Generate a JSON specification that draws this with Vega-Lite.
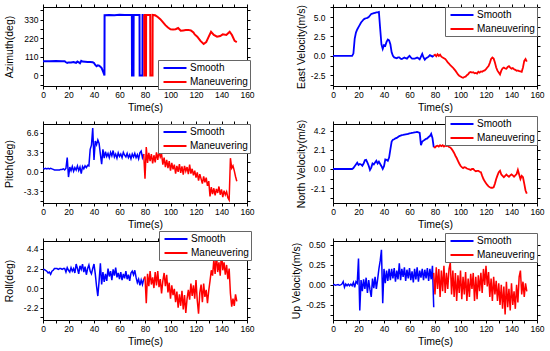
{
"$schema":"https://vega.github.io/schema/vega-lite/v6.json",
"padding":{"left":3,"top":2,"right":0,"bottom":0},
"background":"white",
"datasets":{
"az":[
{"t":0,"a":84,"s":"S"},{"t":5,"a":84,"s":"S"},{"t":10,"a":85,"s":"S"},{"t":15,"a":84,"s":"S"},{"t":17,"a":84,"s":"S"},{"t":18,"a":78,"s":"S"},{"t":19,"a":74,"s":"S"},{"t":20,"a":77,"s":"S"},{"t":22,"a":76,"s":"S"},{"t":24,"a":79,"s":"S"},{"t":25,"a":77,"s":"S"},{"t":26,"a":75,"s":"S"},{"t":27,"a":82,"s":"S"},{"t":28,"a":78,"s":"S"},{"t":29,"a":72,"s":"S"},{"t":30,"a":86,"s":"S"},{"t":31,"a":82,"s":"S"},{"t":33,"a":81,"s":"S"},{"t":35,"a":80,"s":"S"},{"t":37,"a":79,"s":"S"},{"t":39,"a":78,"s":"S"},{"t":40,"a":74,"s":"S"},{"t":41,"a":62,"s":"S"},{"t":42,"a":55,"s":"S"},{"t":43,"a":60,"s":"S"},{"t":44,"a":58,"s":"S"},{"t":45,"a":52,"s":"S"},{"t":46,"a":44,"s":"S"},{"t":47,"a":25,"s":"S"},{"t":47.8,"a":10,"s":"S"},{"t":48.2,"a":0,"s":"S"},{"t":48.3,"a":356,"s":"S"},{"t":52,"a":357,"s":"S"},{"t":56,"a":356,"s":"S"},{"t":60,"a":358,"s":"S"},{"t":64,"a":357,"s":"S"},{"t":69.7,"a":357,"s":"S"},{"t":69.8,"a":0,"s":"S"},{"t":71,"a":0,"s":"S"},{"t":71.1,"a":357,"s":"S"},{"t":75.7,"a":357,"s":"S"},{"t":75.8,"a":0,"s":"S"},{"t":78,"a":0,"s":"S"},{"t":78.1,"a":357,"s":"S"},{"t":79,"a":357,"s":"S"},
{"t":79,"a":357,"s":"M"},{"t":79.4,"a":357,"s":"M"},{"t":79.5,"a":0,"s":"M"},{"t":80.8,"a":0,"s":"M"},{"t":80.9,"a":357,"s":"M"},{"t":84.1,"a":357,"s":"M"},{"t":84.2,"a":0,"s":"M"},{"t":85.9,"a":0,"s":"M"},{"t":86,"a":357,"s":"M"},{"t":88,"a":355,"s":"M"},{"t":90,"a":345,"s":"M"},{"t":92,"a":332,"s":"M"},{"t":94,"a":315,"s":"M"},{"t":96,"a":297,"s":"M"},{"t":98,"a":283,"s":"M"},{"t":100,"a":273,"s":"M"},{"t":102,"a":271,"s":"M"},{"t":104,"a":273,"s":"M"},{"t":106,"a":280,"s":"M"},{"t":108,"a":264,"s":"M"},{"t":110,"a":266,"s":"M"},{"t":112,"a":268,"s":"M"},{"t":114,"a":269,"s":"M"},{"t":116,"a":266,"s":"M"},{"t":118,"a":254,"s":"M"},{"t":119,"a":242,"s":"M"},{"t":121,"a":229,"s":"M"},{"t":123.5,"a":204,"s":"M"},{"t":126,"a":186,"s":"M"},{"t":128,"a":197,"s":"M"},{"t":130,"a":229,"s":"M"},{"t":131.8,"a":258,"s":"M"},{"t":134,"a":239,"s":"M"},{"t":136.5,"a":229,"s":"M"},{"t":139,"a":233,"s":"M"},{"t":141,"a":243,"s":"M"},{"t":143.8,"a":239,"s":"M"},{"t":146.4,"a":258,"s":"M"},{"t":148.2,"a":239,"s":"M"},{"t":150.3,"a":204,"s":"M"},{"t":152,"a":197,"s":"M"}
],
"d":[
{"t":0,"s":"S","p":0.6,"r":2.1,"e":0,"n":0,"u":0},
{"t":1,"s":"S","p":0.5,"r":2.1,"e":0,"n":0,"u":0.005},
{"t":2,"s":"S","p":0.6,"r":2.0,"e":0,"n":0,"u":-0.005},
{"t":3,"s":"S","p":0.5,"r":1.9,"e":0,"n":0,"u":0},
{"t":4,"s":"S","p":0.6,"r":1.7,"e":0,"n":0,"u":0.005},
{"t":5,"s":"S","p":0.5,"r":1.8,"e":0,"n":0,"u":-0.005},
{"t":6,"s":"S","p":0.6,"r":1.55,"e":0,"n":0,"u":0},
{"t":7,"s":"S","p":0.5,"r":1.9,"e":0,"n":0,"u":0.01},
{"t":8,"s":"S","p":0.4,"r":2.0,"e":0,"n":0,"u":0.04},
{"t":9,"s":"S","p":0.3,"r":2.2,"e":0,"n":0,"u":-0.03},
{"t":10,"s":"S","p":0.3,"r":2.2,"e":0,"n":0,"u":0.01},
{"t":11,"s":"S","p":0.3,"r":2.2,"e":0,"n":0,"u":-0.01},
{"t":12,"s":"S","p":0.3,"r":2.1,"e":0,"n":0,"u":0.01},
{"t":13,"s":"S","p":0.3,"r":2.2,"e":0,"n":0,"u":-0.01},
{"t":14,"s":"S","p":0.4,"r":2.2,"e":0,"n":0,"u":0.01},
{"t":15,"s":"S","p":0.4,"r":2.1,"e":0,"n":0,"u":-0.01},
{"t":16,"s":"S","p":0.5,"r":2.2,"e":0.3,"n":0.1,"u":0.03},
{"t":17,"s":"S","p":0.3,"r":2.2,"e":2.2,"n":0.3,"u":-0.03},
{"t":18,"s":"S","p":0.6,"r":1.8,"e":3.0,"n":0.5,"u":0.04},
{"t":19,"s":"S","p":2.4,"r":2.3,"e":3.4,"n":0.7,"u":0.02},
{"t":20,"s":"S","p":-0.9,"r":2.0,"e":3.7,"n":0.45,"u":0.33},
{"t":21,"s":"S","p":0.8,"r":1.8,"e":4.0,"n":0.55,"u":-0.32},
{"t":22,"s":"S","p":0.2,"r":2.3,"e":4.3,"n":0.5,"u":0.06},
{"t":23,"s":"S","p":0.9,"r":1.9,"e":4.5,"n":0.35,"u":-0.08},
{"t":24,"s":"S","p":0.1,"r":2.2,"e":4.7,"n":0.6,"u":0.07},
{"t":25,"s":"S","p":0.7,"r":1.7,"e":4.8,"n":0.95,"u":-0.05},
{"t":26,"s":"S","p":0.3,"r":2.7,"e":4.85,"n":1.0,"u":0.09},
{"t":27,"s":"S","p":1.0,"r":2.2,"e":4.9,"n":0.7,"u":-0.1},
{"t":28,"s":"S","p":0.2,"r":1.6,"e":5.0,"n":0.35,"u":0.06},
{"t":29,"s":"S","p":0.8,"r":2.5,"e":5.2,"n":-0.1,"u":-0.06},
{"t":30,"s":"S","p":-0.3,"r":2.1,"e":5.4,"n":0.15,"u":-0.15},
{"t":31,"s":"S","p":0.9,"r":2.7,"e":5.45,"n":0.6,"u":0.08},
{"t":32,"s":"S","p":0.5,"r":1.8,"e":5.5,"n":0.5,"u":-0.04},
{"t":33,"s":"S","p":1.0,"r":2.4,"e":5.55,"n":0.7,"u":0.1},
{"t":34,"s":"S","p":0.7,"r":1.5,"e":5.6,"n":0.9,"u":-0.05},
{"t":35,"s":"S","p":1.1,"r":2.2,"e":5.6,"n":0.6,"u":0.07},
{"t":36,"s":"S","p":1.0,"r":2.6,"e":5.65,"n":0.8,"u":0.2},
{"t":37,"s":"S","p":3.8,"r":1.9,"e":3.5,"n":0.55,"u":0.3},
{"t":38,"s":"S","p":4.5,"r":1.6,"e":1.5,"n":0.3,"u":0.44},
{"t":39,"s":"S","p":7.4,"r":2.2,"e":0.9,"n":0.0,"u":-0.23},
{"t":40,"s":"S","p":2.0,"r":2.7,"e":1.4,"n":0.3,"u":0.2},
{"t":41,"s":"S","p":5.2,"r":1.6,"e":1.3,"n":1.05,"u":0.02},
{"t":42,"s":"S","p":4.6,"r":0.2,"e":1.8,"n":1.0,"u":0.18},
{"t":43,"s":"S","p":5.4,"r":-0.9,"e":2.1,"n":0.9,"u":0.05},
{"t":44,"s":"S","p":4.8,"r":0.8,"e":2.0,"n":1.25,"u":0.2},
{"t":45,"s":"S","p":3.0,"r":2.8,"e":1.5,"n":2.15,"u":0.06},
{"t":46,"s":"S","p":1.3,"r":0.4,"e":0.45,"n":3.0,"u":0.2},
{"t":47,"s":"S","p":3.8,"r":1.8,"e":0.0,"n":3.2,"u":0.08},
{"t":48,"s":"S","p":2.3,"r":0.7,"e":-0.2,"n":3.25,"u":0.21},
{"t":49,"s":"S","p":3.4,"r":1.6,"e":-0.25,"n":3.35,"u":0.04},
{"t":50,"s":"S","p":2.6,"r":0.8,"e":-0.3,"n":3.4,"u":0.18},
{"t":51,"s":"S","p":3.1,"r":2.2,"e":-0.2,"n":3.5,"u":0.07},
{"t":52,"s":"S","p":2.4,"r":1.3,"e":-0.2,"n":3.6,"u":0.27},
{"t":53,"s":"S","p":3.3,"r":1.9,"e":-0.35,"n":3.65,"u":0.06},
{"t":54,"s":"S","p":2.7,"r":0.9,"e":-0.4,"n":3.7,"u":0.2},
{"t":55,"s":"S","p":3.6,"r":2.1,"e":-0.3,"n":3.72,"u":0.1},
{"t":56,"s":"S","p":2.5,"r":1.4,"e":-0.2,"n":3.75,"u":0.22},
{"t":57,"s":"S","p":3.0,"r":2.3,"e":-0.3,"n":3.78,"u":0.05},
{"t":58,"s":"S","p":2.3,"r":1.2,"e":-0.35,"n":3.8,"u":0.19},
{"t":59,"s":"S","p":3.2,"r":1.7,"e":-0.15,"n":3.85,"u":0.08},
{"t":60,"s":"S","p":2.6,"r":1.0,"e":0.0,"n":3.9,"u":0.21},
{"t":61,"s":"S","p":3.0,"r":1.8,"e":-0.2,"n":3.92,"u":0.06},
{"t":62,"s":"S","p":2.4,"r":0.9,"e":-0.35,"n":3.95,"u":0.17},
{"t":63,"s":"S","p":3.3,"r":1.6,"e":-0.35,"n":3.97,"u":0.03},
{"t":64,"s":"S","p":2.8,"r":1.1,"e":-0.35,"n":4.0,"u":0.2},
{"t":65,"s":"S","p":2.5,"r":1.9,"e":-0.3,"n":4.02,"u":0.07},
{"t":66,"s":"S","p":3.1,"r":1.0,"e":-0.2,"n":4.05,"u":0.22},
{"t":67,"s":"S","p":2.4,"r":1.5,"e":-0.3,"n":4.0,"u":0.04},
{"t":68,"s":"S","p":2.9,"r":0.8,"e":-0.45,"n":3.95,"u":0.18},
{"t":69,"s":"S","p":2.2,"r":1.7,"e":-0.1,"n":2.6,"u":0.09},
{"t":70,"s":"S","p":3.0,"r":1.9,"e":0.25,"n":3.0,"u":0.2},
{"t":71,"s":"S","p":2.5,"r":1.5,"e":-0.2,"n":3.1,"u":0.06},
{"t":72,"s":"S","p":3.1,"r":2.0,"e":-0.5,"n":3.2,"u":0.19},
{"t":73,"s":"S","p":2.4,"r":1.2,"e":-0.3,"n":3.3,"u":0.08},
{"t":74,"s":"S","p":2.9,"r":0.6,"e":-0.2,"n":3.35,"u":0.21},
{"t":75,"s":"S","p":2.2,"r":1.0,"e":-0.1,"n":3.5,"u":0.05},
{"t":76,"s":"S","p":3.2,"r":0.3,"e":0.1,"n":3.6,"u":0.2},
{"t":77,"s":"S","p":3.5,"r":0.9,"e":0.0,"n":3.85,"u":0.07},
{"t":78,"s":"S","p":2.4,"r":0.4,"e":-0.1,"n":3.4,"u":0.24},
{"t":79,"s":"S","p":3.0,"r":1.0,"e":0.05,"n":2.4,"u":-0.28},
{"t":79,"s":"M","p":3.0,"r":1.0,"e":0.05,"n":2.4,"u":0.15},
{"t":80,"s":"M","p":-1.2,"r":1.3,"e":0.15,"n":2.35,"u":-0.12},
{"t":81,"s":"M","p":4.2,"r":-1.7,"e":-0.05,"n":2.5,"u":0.22},
{"t":82,"s":"M","p":1.5,"r":1.6,"e":0.2,"n":2.55,"u":-0.05},
{"t":83,"s":"M","p":3.2,"r":0.2,"e":0.0,"n":2.45,"u":0.2},
{"t":84,"s":"M","p":1.8,"r":1.9,"e":0.15,"n":2.6,"u":-0.15},
{"t":85,"s":"M","p":3.0,"r":0.4,"e":-0.1,"n":2.5,"u":0.18},
{"t":86,"s":"M","p":1.4,"r":1.2,"e":-0.2,"n":2.6,"u":-0.08},
{"t":87,"s":"M","p":2.8,"r":0.0,"e":-0.3,"n":2.45,"u":0.24},
{"t":88,"s":"M","p":1.6,"r":1.8,"e":-0.4,"n":2.55,"u":-0.1},
{"t":89,"s":"M","p":3.3,"r":0.3,"e":-0.6,"n":2.5,"u":0.15},
{"t":90,"s":"M","p":2.0,"r":1.9,"e":-0.85,"n":2.55,"u":-0.05},
{"t":91,"s":"M","p":3.5,"r":0.1,"e":-1.0,"n":2.4,"u":0.2},
{"t":92,"s":"M","p":2.5,"r":1.0,"e":-1.2,"n":2.35,"u":0.28},
{"t":93,"s":"M","p":3.0,"r":-0.6,"e":-1.35,"n":2.2,"u":-0.12},
{"t":94,"s":"M","p":1.2,"r":0.8,"e":-1.5,"n":2.0,"u":0.18},
{"t":95,"s":"M","p":2.4,"r":1.7,"e":-1.7,"n":1.75,"u":-0.15},
{"t":96,"s":"M","p":0.8,"r":0.2,"e":-1.9,"n":1.45,"u":0.15},
{"t":97,"s":"M","p":2.0,"r":1.5,"e":-2.15,"n":1.2,"u":-0.2},
{"t":98,"s":"M","p":0.6,"r":-0.5,"e":-2.4,"n":0.9,"u":0.12},
{"t":99,"s":"M","p":1.8,"r":0.6,"e":-2.55,"n":0.6,"u":-0.1},
{"t":100,"s":"M","p":0.2,"r":-1.2,"e":-2.65,"n":0.35,"u":0.18},
{"t":101,"s":"M","p":1.5,"r":0.3,"e":-2.75,"n":0.2,"u":-0.18},
{"t":102,"s":"M","p":0.4,"r":-0.8,"e":-2.82,"n":0.1,"u":0.1},
{"t":103,"s":"M","p":1.2,"r":-0.1,"e":-2.72,"n":0.2,"u":-0.12},
{"t":104,"s":"M","p":-0.3,"r":-1.6,"e":-2.68,"n":0.15,"u":0.16},
{"t":105,"s":"M","p":1.0,"r":-0.4,"e":-2.48,"n":0.05,"u":-0.2},
{"t":106,"s":"M","p":0.0,"r":-2.2,"e":-2.38,"n":0.0,"u":0.08},
{"t":107,"s":"M","p":1.3,"r":-0.7,"e":-2.15,"n":-0.05,"u":-0.15},
{"t":108,"s":"M","p":-0.2,"r":-2.0,"e":-2.08,"n":-0.1,"u":0.14},
{"t":109,"s":"M","p":0.9,"r":-0.3,"e":-2.15,"n":0.0,"u":-0.05},
{"t":110,"s":"M","p":-0.5,"r":-2.4,"e":-2.1,"n":0.0,"u":0.15},
{"t":111,"s":"M","p":1.0,"r":-0.8,"e":-2.25,"n":-0.15,"u":-0.2},
{"t":112,"s":"M","p":0.1,"r":-2.8,"e":-2.2,"n":-0.25,"u":0.1},
{"t":113,"s":"M","p":0.8,"r":-1.2,"e":-2.28,"n":-0.2,"u":-0.18},
{"t":114,"s":"M","p":-0.4,"r":-0.2,"e":-2.05,"n":-0.2,"u":0.12},
{"t":115,"s":"M","p":1.2,"r":-1.3,"e":-2.15,"n":-0.3,"u":-0.08},
{"t":116,"s":"M","p":-0.3,"r":0.5,"e":-2.0,"n":-0.35,"u":0.15},
{"t":117,"s":"M","p":0.5,"r":-0.9,"e":-2.05,"n":-0.75,"u":-0.1},
{"t":118,"s":"M","p":-0.6,"r":0.3,"e":-1.92,"n":-1.1,"u":0.2},
{"t":119,"s":"M","p":0.2,"r":-1.2,"e":-1.88,"n":-1.35,"u":0.0},
{"t":120,"s":"M","p":-1.0,"r":0.9,"e":-1.7,"n":-1.55,"u":0.24},
{"t":121,"s":"M","p":-0.1,"r":-1.4,"e":-1.5,"n":-1.75,"u":-0.02},
{"t":122,"s":"M","p":-1.5,"r":-2.9,"e":-1.3,"n":-1.9,"u":0.16},
{"t":123,"s":"M","p":-0.4,"r":-0.5,"e":-0.9,"n":-2.0,"u":-0.15},
{"t":124,"s":"M","p":-1.2,"r":0.4,"e":-0.4,"n":-2.05,"u":0.08},
{"t":125,"s":"M","p":-2.0,"r":-1.6,"e":-0.2,"n":-2.05,"u":-0.2},
{"t":126,"s":"M","p":-0.8,"r":0.5,"e":-0.35,"n":-2.0,"u":0.1},
{"t":127,"s":"M","p":-1.8,"r":-1.0,"e":-0.85,"n":-1.6,"u":-0.12},
{"t":128,"s":"M","p":-1.0,"r":-0.2,"e":-1.5,"n":-1.1,"u":0.05},
{"t":129,"s":"M","p":-2.4,"r":-1.7,"e":-1.9,"n":-0.7,"u":-0.2},
{"t":130,"s":"M","p":-1.6,"r":-0.3,"e":-2.15,"n":-0.35,"u":0.02},
{"t":131,"s":"M","p":-4.2,"r":0.8,"e":-2.4,"n":-0.2,"u":-0.25},
{"t":132,"s":"M","p":-2.6,"r":2.0,"e":-1.9,"n":-0.6,"u":0.0},
{"t":133,"s":"M","p":-3.8,"r":1.4,"e":-1.6,"n":-0.75,"u":-0.3},
{"t":134,"s":"M","p":-2.8,"r":3.2,"e":-1.5,"n":-0.9,"u":-0.02},
{"t":135,"s":"M","p":-4.0,"r":1.6,"e":-1.62,"n":-0.75,"u":-0.37},
{"t":136,"s":"M","p":-2.9,"r":3.9,"e":-1.65,"n":-0.6,"u":0.04},
{"t":137,"s":"M","p":-3.6,"r":1.8,"e":-1.42,"n":-0.75,"u":-0.28},
{"t":138,"s":"M","p":-2.5,"r":2.9,"e":-1.32,"n":-0.85,"u":-0.05},
{"t":139,"s":"M","p":-3.9,"r":1.4,"e":-1.52,"n":-0.7,"u":-0.32},
{"t":140,"s":"M","p":-3.0,"r":4.1,"e":-1.65,"n":-0.6,"u":0.02},
{"t":141,"s":"M","p":-4.3,"r":2.0,"e":-1.58,"n":-0.7,"u":-0.25},
{"t":142,"s":"M","p":-3.2,"r":2.9,"e":-1.72,"n":-0.85,"u":-0.08},
{"t":143,"s":"M","p":-3.9,"r":1.5,"e":-1.8,"n":-0.7,"u":-0.3},
{"t":144,"s":"M","p":-3.4,"r":2.6,"e":-1.92,"n":-0.55,"u":0.0},
{"t":145,"s":"M","p":-4.4,"r":1.0,"e":-1.88,"n":-0.1,"u":-0.22},
{"t":146,"s":"M","p":-4.8,"r":2.2,"e":-1.98,"n":-0.6,"u":0.1},
{"t":147,"s":"M","p":2.3,"r":-0.6,"e":-2.0,"n":-1.1,"u":0.18},
{"t":148,"s":"M","p":0.6,"r":-2.1,"e":-2.05,"n":-0.75,"u":-0.12},
{"t":149,"s":"M","p":1.0,"r":-1.2,"e":-1.5,"n":-0.9,"u":0.04},
{"t":150,"s":"M","p":0.2,"r":-2.0,"e":-0.65,"n":-1.6,"u":-0.15},
{"t":151,"s":"M","p":-0.8,"r":-0.7,"e":-0.4,"n":-2.35,"u":0.02},
{"t":152,"s":"M","p":-1.6,"r":-1.5,"e":-0.75,"n":-2.7,"u":-0.08}
]
},
"columns":2,
"bounds":"flush",
"spacing":{"row":38,"column":86},
"resolve":{"scale":{"x":"independent","y":"independent","color":"independent"},"axis":{"x":"independent","y":"independent"},"legend":{"color":"independent"}},
"concat":[
{"width":204,"height":79,"data":{"name":"az"},
"layer":[
{"mark":{"type":"line","strokeWidth":2,"clip":true},"encoding":{
"x":{"field":"t","type":"quantitative","scale":{"domain":[0,160],"nice":false},"axis":{"title":"Time(s)","values":[0,10,20,30,40,50,60,70,80,90,100,110,120,130,140,150,160],"labelExpr":"datum.value % 20 == 0 ? datum.label : ''"}},
"y":{"field":"a","type":"quantitative","scale":{"domain":[-62,404],"nice":false,"zero":false},"axis":{"title":"Azimuth(deg)","titlePadding":9,"labelPadding":2,"values":[-55,0,55,110,165,220,275,330,385],"labelExpr":"indexof([0,110,220,330],datum.value)>=0 ? datum.label : ''"}},
"color":{"field":"s","type":"nominal","scale":{"domain":["S","M"],"range":["#0000FF","#FF0000"]},"legend":{"title":null,"symbolType":"M-2.3,0H2.3","legendX":115,"legendY":53,"labelExpr":"datum.label=='S'?'Smooth':'Maneuvering'"}}}},
{"mark":{"type":"line","opacity":0},"encoding":{
"x":{"field":"t","type":"quantitative","scale":{"domain":[0,160],"nice":false},"axis":{"orient":"top","title":null,"labels":false,"values":[0,10,20,30,40,50,60,70,80,90,100,110,120,130,140,150,160]}},
"y":{"field":"a","type":"quantitative","scale":{"domain":[-62,404],"nice":false,"zero":false},"axis":{"orient":"right","title":null,"labels":false,"values":[-55,0,55,110,165,220,275,330,385]}}}}
],
"resolve":{"axis":{"x":"independent","y":"independent"}}},
{"width":204,"height":79,"data":{"name":"d"},
"layer":[
{"mark":{"type":"line","strokeWidth":1.8,"clip":true},"encoding":{
"x":{"field":"t","type":"quantitative","scale":{"domain":[0,160],"nice":false},"axis":{"title":"Time(s)","values":[0,10,20,30,40,50,60,70,80,90,100,110,120,130,140,150,160],"labelExpr":"datum.value % 20 == 0 ? datum.label : ''"}},
"y":{"field":"e","type":"quantitative","scale":{"domain":[-3.88,6.3],"nice":false,"zero":false},"axis":{"title":"East Velocity(m/s)","titlePadding":4,"labelPadding":5,"format":".1f","values":[-3.75,-2.5,-1.25,0,1.25,2.5,3.75,5,6.25],"labelExpr":"indexof([-2.5,0,2.5,5],datum.value)>=0 ? replace(datum.label,'\u2212','-') : ''"}},
"color":{"field":"s","type":"nominal","scale":{"domain":["S","M"],"range":["#0000FF","#FF0000"]},"legend":{"title":null,"symbolType":"M-2.3,0H2.3","legendX":112,"legendY":0,"labelExpr":"datum.label=='S'?'Smooth':'Maneuvering'"}}}},
{"mark":{"type":"line","opacity":0},"encoding":{
"x":{"field":"t","type":"quantitative","scale":{"domain":[0,160],"nice":false},"axis":{"orient":"top","title":null,"labels":false,"values":[0,10,20,30,40,50,60,70,80,90,100,110,120,130,140,150,160]}},
"y":{"field":"e","type":"quantitative","scale":{"domain":[-3.88,6.3],"nice":false,"zero":false},"axis":{"orient":"right","title":null,"labels":false,"values":[-3.75,-2.5,-1.25,0,1.25,2.5,3.75,5,6.25]}}}}
],
"resolve":{"axis":{"x":"independent","y":"independent"}}},
{"width":204,"height":79,"data":{"name":"d"},
"layer":[
{"mark":{"type":"line","strokeWidth":1.5,"clip":true},"encoding":{
"x":{"field":"t","type":"quantitative","scale":{"domain":[0,160],"nice":false},"axis":{"title":"Time(s)","values":[0,10,20,30,40,50,60,70,80,90,100,110,120,130,140,150,160],"labelExpr":"datum.value % 20 == 0 ? datum.label : ''"}},
"y":{"field":"p","type":"quantitative","scale":{"domain":[-5.3,8.1],"nice":false,"zero":false},"axis":{"title":"Pitch(deg)","titlePadding":9,"labelPadding":2,"format":".1f","values":[-4.95,-3.3,-1.65,0,1.65,3.3,4.95,6.6],"labelExpr":"indexof([-3.3,0,3.3,6.6],datum.value)>=0 ? replace(datum.label,'\u2212','-') : ''"}},
"color":{"field":"s","type":"nominal","scale":{"domain":["S","M"],"range":["#0000FF","#FF0000"]},"legend":{"title":null,"symbolType":"M-2.3,0H2.3","legendX":115,"legendY":0,"labelExpr":"datum.label=='S'?'Smooth':'Maneuvering'"}}}},
{"mark":{"type":"line","opacity":0},"encoding":{
"x":{"field":"t","type":"quantitative","scale":{"domain":[0,160],"nice":false},"axis":{"orient":"top","title":null,"labels":false,"values":[0,10,20,30,40,50,60,70,80,90,100,110,120,130,140,150,160]}},
"y":{"field":"p","type":"quantitative","scale":{"domain":[-5.3,8.1],"nice":false,"zero":false},"axis":{"orient":"right","title":null,"labels":false,"values":[-4.95,-3.3,-1.65,0,1.65,3.3,4.95,6.6]}}}}
],
"resolve":{"axis":{"x":"independent","y":"independent"}}},
{"width":204,"height":79,"data":{"name":"d"},
"layer":[
{"mark":{"type":"line","strokeWidth":1.8,"clip":true},"encoding":{
"x":{"field":"t","type":"quantitative","scale":{"domain":[0,160],"nice":false},"axis":{"title":"Time(s)","values":[0,10,20,30,40,50,60,70,80,90,100,110,120,130,140,150,160],"labelExpr":"datum.value % 20 == 0 ? datum.label : ''"}},
"y":{"field":"n","type":"quantitative","scale":{"domain":[-3.72,4.92],"nice":false,"zero":false},"axis":{"title":"North Velocity(m/s)","titlePadding":4,"labelPadding":5,"format":".1f","values":[-3.15,-2.1,-1.05,0,1.05,2.1,3.15,4.2],"labelExpr":"indexof([-2.1,0,2.1,4.2],datum.value)>=0 ? replace(datum.label,'\u2212','-') : ''"}},
"color":{"field":"s","type":"nominal","scale":{"domain":["S","M"],"range":["#0000FF","#FF0000"]},"legend":{"title":null,"symbolType":"M-2.3,0H2.3","legendX":112,"legendY":-8,"labelExpr":"datum.label=='S'?'Smooth':'Maneuvering'"}}}},
{"mark":{"type":"line","opacity":0},"encoding":{
"x":{"field":"t","type":"quantitative","scale":{"domain":[0,160],"nice":false},"axis":{"orient":"top","title":null,"labels":false,"values":[0,10,20,30,40,50,60,70,80,90,100,110,120,130,140,150,160]}},
"y":{"field":"n","type":"quantitative","scale":{"domain":[-3.72,4.92],"nice":false,"zero":false},"axis":{"orient":"right","title":null,"labels":false,"values":[-3.15,-2.1,-1.05,0,1.05,2.1,3.15,4.2]}}}}
],
"resolve":{"axis":{"x":"independent","y":"independent"}}},
{"width":204,"height":79,"data":{"name":"d"},
"layer":[
{"mark":{"type":"line","strokeWidth":1.5,"clip":true},"encoding":{
"x":{"field":"t","type":"quantitative","scale":{"domain":[0,160],"nice":false},"axis":{"title":"Time(s)","values":[0,10,20,30,40,50,60,70,80,90,100,110,120,130,140,150,160],"labelExpr":"datum.value % 20 == 0 ? datum.label : ''"}},
"y":{"field":"r","type":"quantitative","scale":{"domain":[-3.6,5.3],"nice":false,"zero":false},"axis":{"title":"Roll(deg)","titlePadding":9,"labelPadding":2,"format":".1f","values":[-3.3,-2.2,-1.1,0,1.1,2.2,3.3,4.4],"labelExpr":"indexof([-2.2,0,2.2,4.4],datum.value)>=0 ? replace(datum.label,'\u2212','-') : ''"}},
"color":{"field":"s","type":"nominal","scale":{"domain":["S","M"],"range":["#0000FF","#FF0000"]},"legend":{"title":null,"symbolType":"M-2.3,0H2.3","legendX":116,"legendY":-10,"labelExpr":"datum.label=='S'?'Smooth':'Maneuvering'"}}}},
{"mark":{"type":"line","opacity":0},"encoding":{
"x":{"field":"t","type":"quantitative","scale":{"domain":[0,160],"nice":false},"axis":{"orient":"top","title":null,"labels":false,"values":[0,10,20,30,40,50,60,70,80,90,100,110,120,130,140,150,160]}},
"y":{"field":"r","type":"quantitative","scale":{"domain":[-3.6,5.3],"nice":false,"zero":false},"axis":{"orient":"right","title":null,"labels":false,"values":[-3.3,-2.2,-1.1,0,1.1,2.2,3.3,4.4]}}}}
],
"resolve":{"axis":{"x":"independent","y":"independent"}}},
{"width":204,"height":79,"data":{"name":"d"},
"layer":[
{"mark":{"type":"line","strokeWidth":1.5,"clip":true},"encoding":{
"x":{"field":"t","type":"quantitative","scale":{"domain":[0,160],"nice":false},"axis":{"title":"Time(s)","values":[0,10,20,30,40,50,60,70,80,90,100,110,120,130,140,150,160],"labelExpr":"datum.value % 20 == 0 ? datum.label : ''"}},
"y":{"field":"u","type":"quantitative","scale":{"domain":[-0.44,0.55],"nice":false,"zero":false},"axis":{"title":"Up Velocity(m/s)","titlePadding":4,"labelPadding":5,"format":".2f","values":[-0.375,-0.25,-0.125,0,0.125,0.25,0.375,0.5],"labelExpr":"indexof([-0.25,0,0.25,0.5],datum.value)>=0 ? replace(datum.label,'\u2212','-') : ''"}},
"color":{"field":"s","type":"nominal","scale":{"domain":["S","M"],"range":["#0000FF","#FF0000"]},"legend":{"title":null,"symbolType":"M-2.3,0H2.3","legendX":112,"legendY":-8,"labelExpr":"datum.label=='S'?'Smooth':'Maneuvering'"}}}},
{"mark":{"type":"line","opacity":0},"encoding":{
"x":{"field":"t","type":"quantitative","scale":{"domain":[0,160],"nice":false},"axis":{"orient":"top","title":null,"labels":false,"values":[0,10,20,30,40,50,60,70,80,90,100,110,120,130,140,150,160]}},
"y":{"field":"u","type":"quantitative","scale":{"domain":[-0.44,0.55],"nice":false,"zero":false},"axis":{"orient":"right","title":null,"labels":false,"values":[-0.375,-0.25,-0.125,0,0.125,0.25,0.375,0.5]}}}}
],
"resolve":{"axis":{"x":"independent","y":"independent"}}}
],
"config":{
"font":"Liberation Sans",
"view":{"stroke":"black","strokeWidth":1},
"axis":{"grid":false,"domainColor":"black","tickColor":"black","tickSize":3,"labelFontSize":8.5,"labelColor":"black","titleFontSize":10.5,"titleFontWeight":"normal","titleColor":"black","labelFlush":false,"labelOverlap":false,"labelPadding":1,"titlePadding":4,"domainWidth":1,"tickWidth":1},
"legend":{"orient":"none","strokeColor":"#666666","fillColor":"white","padding":2,"labelFontSize":10,"labelColor":"black","symbolStrokeWidth":2,"symbolSize":100,"symbolOffset":9,"rowPadding":3,"labelLimit":200,"labelOffset":9}
}
}
